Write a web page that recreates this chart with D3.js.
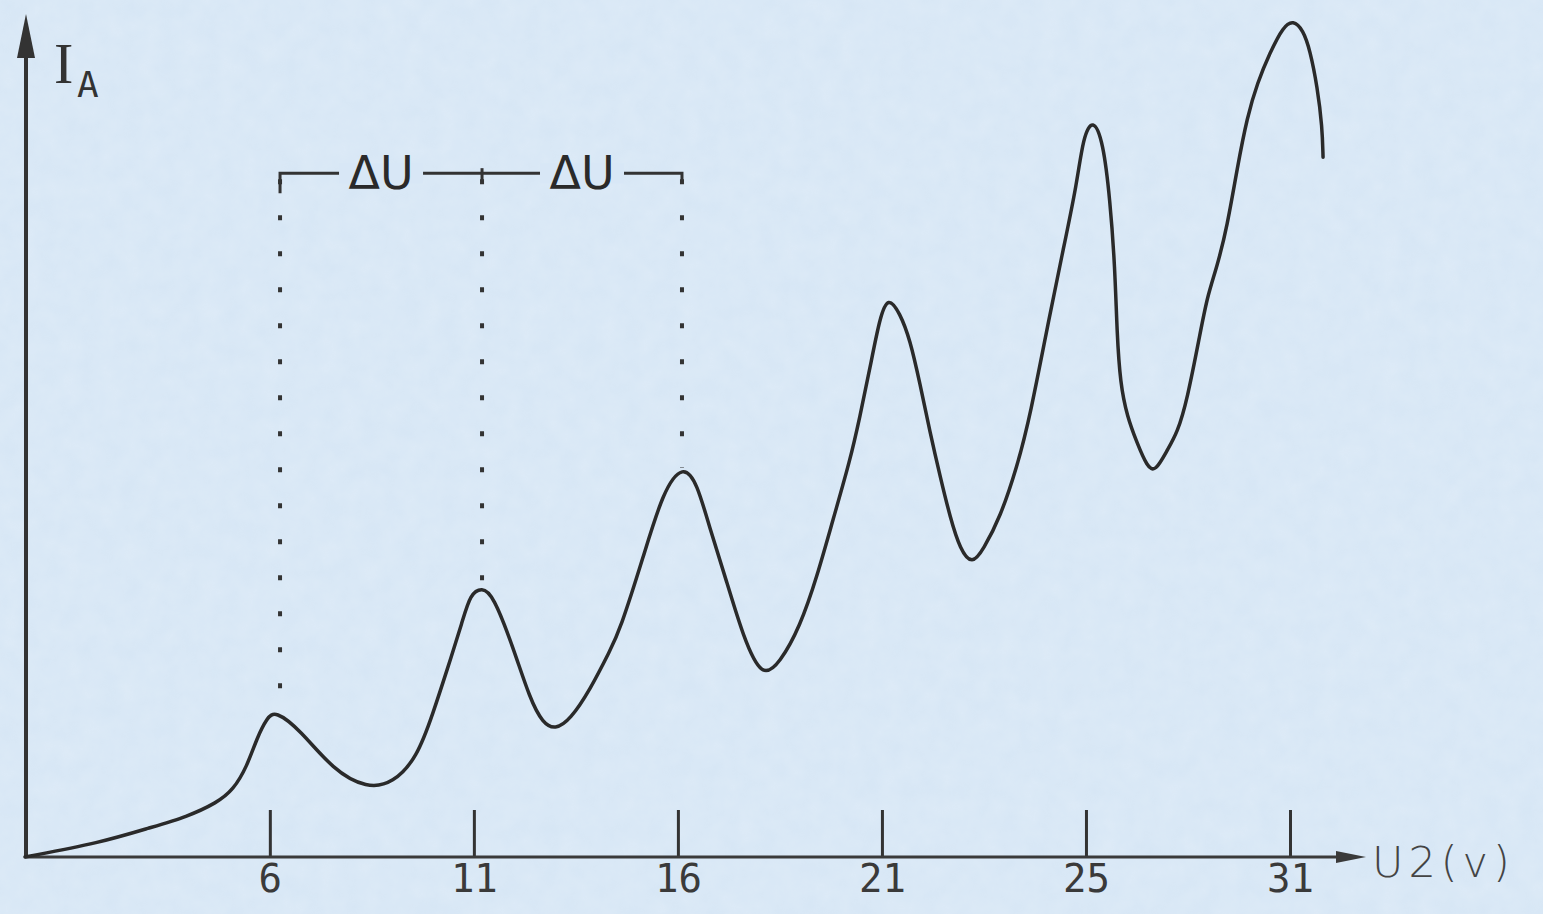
<!DOCTYPE html>
<meta charset="utf-8">
<style>
    body { margin: 0; background: #d9e8f6; }
    svg { display: block; }
</style>
<body>
    <div id="chart"></div>
</body>
<script src="https://cdn.jsdelivr.net/npm/d3@7"></script>
<script>
    var svg_width = 1543,
        svg_height = 914;

    // anode current I_A (arbitrary units) against accelerating voltage U2 (V)
    var voltage = [0, 1.84, 3.06, 3.97, 4.71, 5.10, 5.44, 5.69, 5.93, 6.13,
        6.74, 7.55, 8.38, 9.02, 9.61, 10.0, 10.34, 10.73, 10.91, 11.2, 11.47,
        11.96, 12.38, 12.69, 12.99, 13.36, 13.85, 14.34, 14.58, 15.15, 15.64, 16.13, 16.47,
        16.79, 17.21, 17.6, 18.06, 18.5, 18.99, 19.41, 19.8, 20.22, 20.46, 20.71, 20.95, 21.15, 21.44,
        21.69, 21.93, 22.18, 22.43, 22.67, 22.92, 23.21, 23.48, 23.9, 24.31, 24.63, 25.12,
        25.44, 25.78, 25.93, 26.17, 26.42, 26.59, 26.71, 26.76, 26.84, 27.01, 27.25, 27.5,
        27.7, 27.99, 28.24, 28.48, 28.8, 28.97, 29.21, 29.46, 29.71, 29.95, 30.2, 30.51,
        30.83, 31.08, 31.32, 31.49, 31.67, 31.79, 31.81];
    var current = [0, 1.7, 3.5, 4.8, 6.5, 8.0, 10.8, 14.3, 16.6, 17.5,
        15.2, 10.4, 8.2, 8.8, 11.9, 17.2, 22.3, 28.3, 31.4, 32.2, 31.3,
        25.1, 18.8, 16.0, 15.2, 16.4, 20.0, 24.7, 27.1, 35.8, 43.8, 46.9, 44.7,
        39.1, 32.7, 26.3, 21.3, 23.2, 27.5, 33.5, 40.3, 47.4, 52.6, 58.5, 64.5, 67.0, 65.0,
        61.8, 56.6, 50.7, 45.4, 40.6, 36.7, 34.9, 36.7, 40.6, 46.6, 52.6, 65.0,
        72.5, 80.5, 86.0, 88.3, 85.5, 78.5, 70.5, 62.6, 56.6, 52.6, 49.5, 46.6,
        46.0, 48.6, 50.7, 54.6, 62.6, 66.9, 70.5, 75.3, 82.4, 88.4, 92.5, 96.1,
        99.2, 100, 98.8, 96.4, 92.0, 87.2, 83.6];

    var tickValues = [6, 11, 16, 21, 26, 31];
    var tickLabels = ["6", "11", "16", "21", "25", "31"];

    // the first three maxima, joined by the ΔU bracket
    var peakVoltage = [6.25, 11.2, 16.1];
    var peakCurrent = [17.3, 32.5, 46.5];
    var bracketLevel = 81.7;
    var bracketLabel = "ΔU";

    var x = d3.scaleLinear().domain([0, 31]).range([25, 1290]);
    var y = d3.scaleLinear().domain([0, 100]).range([857, 20]);

    var ink = "#2a2a2a";

    var svg = d3.select("#chart").append("svg")
        .attr("width", svg_width)
        .attr("height", svg_height);

    // paper-ish background
    var defs = svg.append("defs");
    var f = defs.append("filter").attr("id", "paper");
    f.append("feTurbulence").attr("type", "fractalNoise").attr("baseFrequency", 0.05)
        .attr("numOctaves", 3).attr("seed", 4);
    f.append("feColorMatrix").attr("type", "matrix")
        .attr("values", "0 0 0 0 1  0 0 0 0 1  0 0 0 0 1  0 0 0 0.35 0");
    svg.append("rect").attr("width", svg_width).attr("height", svg_height).attr("fill", "#d6e6f5");
    svg.append("rect").attr("width", svg_width).attr("height", svg_height)
        .attr("filter", "url(#paper)").attr("opacity", 0.5);

    // x axis: upward ticks, labels below
    var xAxis = d3.axisBottom(x)
        .tickValues(tickValues)
        .tickFormat(function(d, i) { return tickLabels[i]; })
        .tickSizeInner(-47)
        .tickSizeOuter(0)
        .tickPadding(7);

    var gx = svg.append("g")
        .attr("transform", "translate(0," + y(0) + ")")
        .call(xAxis);
    gx.select(".domain").remove();
    gx.selectAll(".tick line").attr("stroke", "#333").attr("stroke-width", 3);
    gx.selectAll(".tick text")
        .attr("fill", "#3a3a3a")
        .style("font-family", "DejaVu Sans Mono")
        .style("font-size", "39px");

    // axis lines with arrowheads
    svg.append("line")
        .attr("x1", x(0)).attr("y1", y(0)).attr("x2", 1340).attr("y2", y(0))
        .attr("stroke", "#3a3a3a").attr("stroke-width", 3);
    svg.append("path")
        .attr("d", "M1366," + y(0) + "L1336," + (y(0) - 6) + "L1336," + (y(0) + 6) + "Z")
        .attr("fill", "#3a3a3a");

    svg.append("line")
        .attr("x1", x(0) + 1).attr("y1", y(0)).attr("x2", x(0) + 1).attr("y2", 40)
        .attr("stroke", "#333").attr("stroke-width", 4);
    svg.append("path")
        .attr("d", "M" + (x(0) + 1) + ",14L" + (x(0) - 8) + ",58L" + (x(0) + 10) + ",58Z")
        .attr("fill", "#333");

    // axis titles
    svg.append("text")
        .attr("x", 54).attr("y", 83)
        .attr("fill", "#333")
        .style("font-family", "Liberation Serif")
        .style("font-size", "58px")
        .text("I");
    svg.append("text")
        .attr("x", 77).attr("y", 97)
        .attr("fill", "#333")
        .style("font-family", "DejaVu Sans Mono")
        .style("font-size", "36px")
        .text("A");

    svg.append("text")
        .attr("x", 1372).attr("y", y(0) + 20)
        .attr("fill", "#444")
        .style("font-family", "DejaVu Sans")
        .style("font-size", "43px")
        .style("font-weight", "300")
        .style("letter-spacing", "5px")
        .text("U2(v)");

    // dotted drop lines from the bracket to the first maxima
    svg.append("g")
        .selectAll("line")
        .data(peakVoltage)
        .enter()
            .append("line")
            .attr("x1", function(d) { return x(d); })
            .attr("x2", function(d) { return x(d); })
            .attr("y1", y(bracketLevel) + 6)
            .attr("y2", function(d, i) { return y(peakCurrent[i]); })
            .attr("stroke", "#333")
            .attr("stroke-width", 4)
            .attr("stroke-dasharray", "5 31");

    // bracket with ΔU labels
    var by = y(bracketLevel);
    var bracket = svg.append("g");
    bracket.append("path")
        .attr("d", "M" + x(peakVoltage[0]) + "," + (by + 20) + "V" + by + "H" + x(peakVoltage[2]) + "V" + (by + 8))
        .attr("fill", "none").attr("stroke", "#333").attr("stroke-width", 3);
    bracket.append("line")
        .attr("x1", x(peakVoltage[1])).attr("x2", x(peakVoltage[1]))
        .attr("y1", by - 5).attr("y2", by + 8)
        .attr("stroke", "#333").attr("stroke-width", 3);

    for (var i = 0; i < 2; i++) {
        var cx = (x(peakVoltage[i]) + x(peakVoltage[i + 1])) / 2;
        bracket.append("rect")
            .attr("x", cx - 42).attr("y", by - 10).attr("width", 84).attr("height", 20)
            .attr("fill", "#d8e7f6");
        bracket.append("text")
            .attr("x", cx).attr("y", by + 16)
            .attr("text-anchor", "middle")
            .attr("fill", "#2a2a2a")
            .style("font-family", "DejaVu Sans")
            .style("font-size", "46px")
            .text(bracketLabel);
    }

    // the measured curve
    var points = voltage.map(function(v, i) { return [v, current[i]]; });
    var line = d3.line()
        .x(function(d) { return x(d[0]); })
        .y(function(d) { return y(d[1]); })
        .curve(d3.curveBasis);

    svg.append("path")
        .datum(points)
        .attr("d", line)
        .attr("fill", "none")
        .attr("stroke", ink)
        .attr("stroke-width", 3.5)
        .attr("stroke-linejoin", "round")
        .attr("stroke-linecap", "round");
</script>
